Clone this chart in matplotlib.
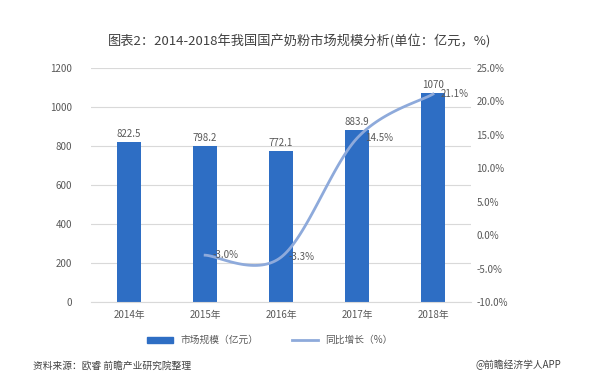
import numpy as np
import matplotlib
matplotlib.use("Agg")
import matplotlib.pyplot as plt
from matplotlib.lines import Line2D
from matplotlib.patches import Patch

plt.rcParams['font.family'] = ['Noto Sans CJK SC', 'DejaVu Sans']

# data
years = ["2014年", "2015年", "2016年", "2017年", "2018年"]
market_size = [822.5, 798.2, 772.1, 883.9, 1070]
growth_years_idx = [1, 2, 3, 4]
growth = [-3.0, -3.3, 14.5, 21.1]
growth_labels = ["-3.0%", "-3.3%", "14.5%", "21.1%"]

bar_color = "#2E6EC4"
line_color = "#8EAADB"
text_color = "#595959"
grid_color = "#D9D9D9"


def smooth(xs, ys, n=40):
    # excel style bezier smoothing
    xs = np.asarray(xs, float)
    ys = np.asarray(ys, float)
    px = np.concatenate([[xs[0]], xs, [xs[-1]]])
    py = np.concatenate([[ys[0]], ys, [ys[-1]]])
    outx, outy = [], []
    for i in range(1, len(px) - 2):
        p0 = np.array([px[i], py[i]])
        p3 = np.array([px[i + 1], py[i + 1]])
        c1 = p0 + (np.array([px[i + 1], py[i + 1]]) - np.array([px[i - 1], py[i - 1]])) / 6
        c2 = p3 - (np.array([px[i + 2], py[i + 2]]) - np.array([px[i], py[i]])) / 6
        t = np.linspace(0, 1, n)[:, None]
        pts = (1 - t) ** 3 * p0 + 3 * (1 - t) ** 2 * t * c1 + 3 * (1 - t) * t ** 2 * c2 + t ** 3 * p3
        outx.extend(pts[:, 0])
        outy.extend(pts[:, 1])
    return np.array(outx), np.array(outy)


fig = plt.figure(figsize=(6, 3.92), dpi=100)
ax = fig.add_axes([0.152, 0.2296, 0.633, 0.597])
x = np.arange(len(years))
ax.bar(x, market_size, width=0.32, color=bar_color, zorder=2)
for xi, v in zip(x, market_size):
    ax.text(xi, v + 15, f"{v:g}", ha="center", va="bottom", fontsize=7, color=text_color)

ax.set_xlim(-0.5, 4.5)
ax.set_ylim(0, 1200)
ax.set_yticks(range(0, 1201, 200))
ax.set_xticks(x)
ax.set_xticklabels(years)
ax.grid(axis="y", color=grid_color, linewidth=0.8, zorder=0)
for s in ["top", "right", "left"]:
    ax.spines[s].set_visible(False)
ax.spines["bottom"].set_color(grid_color)
ax.tick_params(axis="both", length=0, labelsize=7, colors=text_color)
ax.tick_params(axis="y", pad=14)
ax.tick_params(axis="x", pad=6)

ax2 = ax.twinx()
ax2.set_ylim(-10, 25)
ax2.set_yticks(range(-10, 26, 5))
ax2.set_yticklabels([f"{v:.1f}%" for v in range(-10, 26, 5)])
for s in ax2.spines.values():
    s.set_visible(False)
ax2.tick_params(axis="y", length=0, labelsize=7, colors=text_color, pad=4)
sx, sy = smooth(growth_years_idx, growth)
ax2.plot(sx, sy, color=line_color, linewidth=2, zorder=3)
for xi, v, lab in zip(growth_years_idx, growth, growth_labels):
    ax2.text(xi + 0.1, v, lab, ha="left", va="center", fontsize=7, color=text_color)

fig.text(0.5, 0.895, "图表2：2014-2018年我国国产奶粉市场规模分析(单位：亿元，%)",
         ha="center", va="center", fontsize=9.5, color="#404040")

handles = [Patch(color=bar_color), Line2D([0], [0], color=line_color, linewidth=2)]
fig.legend(handles, ["市场规模（亿元）", "同比增长（%）"], loc="center",
           bbox_to_anchor=(0.45, 0.132), ncol=2, frameon=False, fontsize=7,
           handlelength=2.6, handleheight=0.6, columnspacing=3.5, labelcolor=text_color)

fig.text(0.055, 0.068, "资料来源：欧睿 前瞻产业研究院整理", ha="left", va="center",
         fontsize=7, color="#404040", style="italic")
fig.text(0.935, 0.068, "@前瞻经济学人APP", ha="right", va="center",
         fontsize=7, color="#404040")

fig.savefig("out.png", dpi=100)
